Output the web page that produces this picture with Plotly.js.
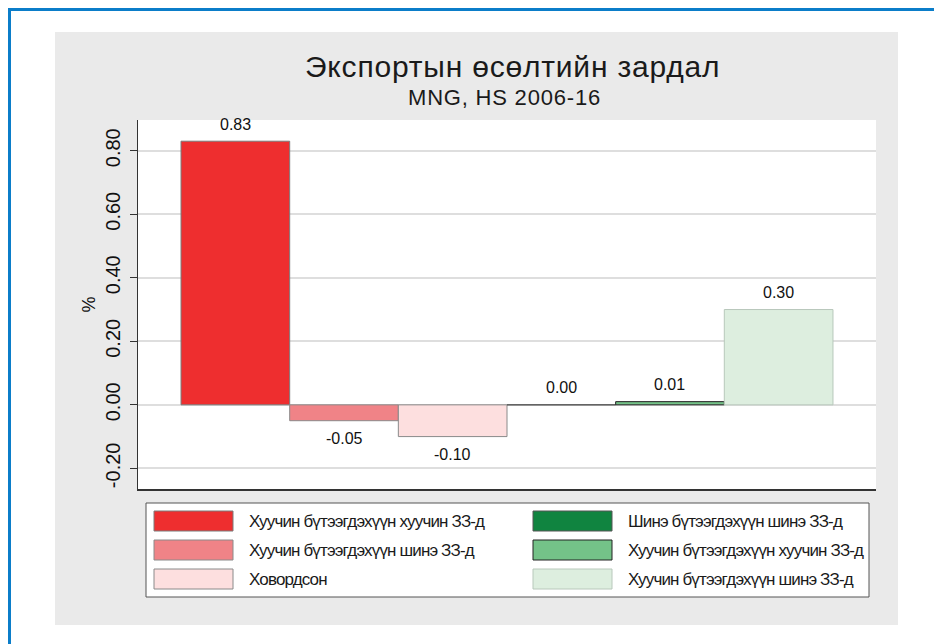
<!DOCTYPE html>
<html>
<head>
<meta charset="utf-8">
<script src="https://cdn.plot.ly/plotly-3.0.1.min.js"></script>
<style>html,body{margin:0;padding:0;background:#fff;}#chart{width:934px;height:644px;}</style>
</head>
<body>
<div id="chart"></div>
<script>
// ---- data ----
const categories = [
  "Хуучин бүтээгдэхүүн хуучин ЗЗ-д",
  "Хуучин бүтээгдэхүүн шинэ ЗЗ-д",
  "Ховордсон",
  "Шинэ бүтээгдэхүүн шинэ ЗЗ-д",
  "Хуучин бүтээгдэхүүн хуучин ЗЗ-д",
  "Хуучин бүтээгдэхүүн шинэ ЗЗ-д"
];
const values = [0.83, -0.05, -0.10, 0.00, 0.01, 0.30];
const titleText = "Экспортын өсөлтийн зардал";
const subtitleText = "MNG, HS 2006-16";
const yTitle = "%";
const yTickVals = [-0.2, 0, 0.2, 0.4, 0.6, 0.8];
const yTickText = ["-0.20", "0.00", "0.20", "0.40", "0.60", "0.80"];

// ---- styles ----
const barColors = ["#EE2E2F", "#F08387", "#FDDFDF", "#108440", "#74C288", "#DDEEDF"];
const barLines  = ["#7a7a7a", "#8a8a8a", "#8a8a8a", "#555555", "#222222", "#b8c8bb"];
const FONT = "Liberation Sans, Arial, sans-serif";

const W = 934, H = 644;
const L = 138, R = 876, T = 120, B = 489;
const px = x => (x - L) / (R - L);
const py = y => (B - y) / (B - T);

const xIdx = values.map((v, i) => i);

const trace = {
  type: "bar",
  x: xIdx,
  y: values,
  width: 1,
  marker: { color: barColors, line: { color: barLines, width: 1 } },
  hoverinfo: "skip",
  showlegend: false
};

const shapes = [];
shapes.push({type:"rect", xref:"paper", yref:"paper", layer:"below",
  x0: px(55), x1: px(898), y0: py(625), y1: py(32),
  fillcolor:"#EAEAEA", line:{width:0}});
shapes.push({type:"rect", xref:"paper", yref:"paper", layer:"below",
  x0: 0, x1: 1, y0: 0, y1: 1, fillcolor:"#FFFFFF", line:{width:0}});
shapes.push({type:"line", xref:"paper", yref:"paper", layer:"above",
  x0: px(9.5), x1: px(9.5), y0: py(8), y1: py(700), line:{color:"#0B7DC9", width:3}});
shapes.push({type:"line", xref:"paper", yref:"paper", layer:"above",
  x0: px(8), x1: px(1000), y0: py(9.5), y1: py(9.5), line:{color:"#0B7DC9", width:3}});
shapes.push({type:"rect", xref:"paper", yref:"paper", layer:"above",
  x0: px(146), x1: px(869), y0: py(597), y1: py(503),
  fillcolor:"#FFFFFF", line:{color:"#555555", width:1}});

const annotations = [];
const spacing = []; // [letter-spacing, leftAlign]
const rowsY = [521, 550, 579];
const colSwX = [[154, 233], [533, 612]];
const colTxX = [247, 626];
categories.forEach((lab, i) => {
  const col = i < 3 ? 0 : 1;
  const row = i % 3;
  const cy = rowsY[row];
  shapes.push({type:"rect", xref:"paper", yref:"paper", layer:"above",
    x0: px(colSwX[col][0]), x1: px(colSwX[col][1]), y0: py(cy + 10), y1: py(cy - 10),
    fillcolor: barColors[i], line:{color: barLines[i], width:1}});
  annotations.push({xref:"paper", yref:"paper", x: px(colTxX[col]), y: py(cy),
    xanchor:"left", yanchor:"middle", showarrow:false, text: lab,
    font:{family: FONT, size:17, color:"#1a1a1a"}});
  spacing.push(["-0.85px", true]);
});

values.forEach((v, i) => {
  annotations.push({x: xIdx[i], y: v, xref:"x", yref:"y", showarrow:false,
    text: v.toFixed(2), yanchor:"middle", yshift: v >= 0 ? 17 : -18,
    font:{family: FONT, size:16, color:"#111"}});
  spacing.push(null);
});

annotations.push({xref:"paper", yref:"paper", x: px(512), y: py(66), xanchor:"center", yanchor:"middle",
  showarrow:false, text: titleText,
  font:{family: FONT, size:30, color:"#1a1a1a"}});
spacing.push(["0.8px", false]);
annotations.push({xref:"paper", yref:"paper", x: px(504), y: py(98), xanchor:"center", yanchor:"middle",
  showarrow:false, text: subtitleText,
  font:{family: FONT, size:22, color:"#1a1a1a"}});
spacing.push(["0.8px", false]);

const layout = {
  width: W, height: H,
  margin: {l: L, r: W - R, t: T, b: H - B, pad: 0},
  paper_bgcolor: "#FFFFFF",
  plot_bgcolor: "#FFFFFF",
  bargap: 0,
  showlegend: false,
  xaxis: {
    range: [-0.896, 5.896], showgrid: false, zeroline: false,
    showticklabels: false, ticks: "", showline: true, linecolor: "#333", linewidth: 1.5,
    fixedrange: true
  },
  yaxis: {
    range: [-0.265, 0.8967],
    tickmode: "array", tickvals: yTickVals, ticktext: yTickText,
    tickangle: -90,
    ticks: "outside", ticklen: 7, tickcolor: "#333", tickwidth: 1,
    ticklabelstandoff: 2,
    showline: true, linecolor: "#333", linewidth: 1.5,
    showgrid: true, gridcolor: "#DEDEDE", gridwidth: 2,
    zeroline: false,
    tickfont: {family: FONT, size:20, color:"#111"},
    title: {text: yTitle, standoff: 1, font:{family: FONT, size:18, color:"#111"}},
    fixedrange: true
  },
  shapes: shapes,
  annotations: annotations,
  font: {family: FONT}
};

Plotly.newPlot("chart", [trace], layout, {displayModeBar: false, staticPlot: true}).then(() => {
  spacing.forEach((s, k) => {
    if (!s) return;
    const t = document.querySelector('#chart g.annotation[data-index="' + k + '"] text.annotation-text');
    if (!t) return;
    if (s[1]) {
      const bb = t.getBBox();
      t.setAttribute('text-anchor', 'start');
      t.setAttribute('x', bb.x);
    }
    t.style.letterSpacing = s[0];
  });
});
</script>
</body>
</html>
